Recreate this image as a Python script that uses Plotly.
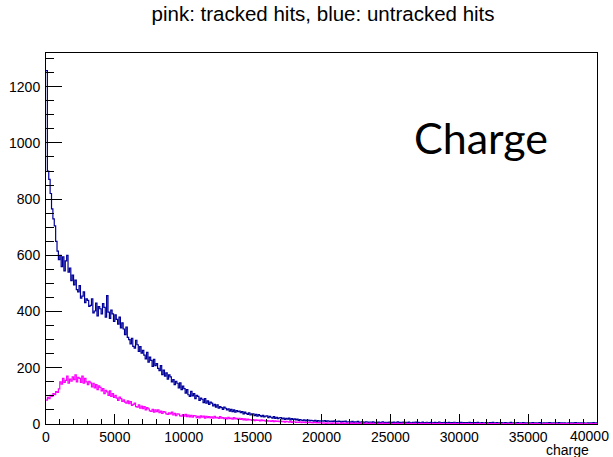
import numpy as np
import plotly.graph_objects as go

bin_width = 100
x_min, x_max = 0, 40000

# untracked hits (blue), 100-wide bins
blue_counts = [
    1257, 900, 870, 820, 765, 730, 705, 650, 615, 585,
    600, 560, 595, 545, 580, 600, 540, 555, 510, 530,
    495, 512, 478, 470, 492, 448, 455, 470, 432, 445,
    440, 418, 422, 445, 395, 402, 430, 385, 418, 410,
    392, 428, 415, 380, 457, 398, 376, 405, 392, 365,
    388, 372, 355, 380, 342, 360, 338, 318, 345, 308,
    300, 285, 305, 276, 270, 298, 282, 258, 275, 252,
    262, 245, 232, 255, 220, 238, 226, 205, 230, 208,
    215, 198, 190, 208, 176, 192, 170, 182, 160, 175,
    168, 150, 158, 140, 152, 145, 128, 146, 122, 135,
    126, 110, 122, 104, 98, 116, 100, 108, 90, 102,
    98, 84, 92, 88, 76, 90, 74, 82, 70, 78,
    74, 64, 70, 60, 68, 56, 62, 58, 52, 60,
    56, 50, 54, 46, 52, 44, 50, 42, 48, 44,
    46, 40, 44, 36, 42, 38, 34, 40, 32, 36,
    36, 30, 34, 28, 33, 30, 26, 31, 25, 28,
    29, 23, 27, 24, 21, 26, 20, 24, 19, 22,
    23, 18, 21, 16, 20, 17, 21, 15, 19, 16,
    18, 15, 17, 13, 16, 14, 12, 15, 11, 14,
    14, 11, 13, 12, 10, 13, 9, 12, 10, 11,
    11, 10, 12, 9, 11, 10, 8, 10, 9, 11,
    9, 8, 10, 9, 7, 9, 8, 10, 7, 8,
    8, 7, 9, 6, 8, 7, 9, 6, 7, 8,
    7, 6, 8, 7, 5, 7, 6, 8, 6, 5,
    6, 7, 5, 6, 8, 5, 6, 4, 6, 7,
    6, 5, 7, 4, 6, 8, 5, 6, 4, 7,
    5, 6, 4, 7, 5, 3, 6, 5, 7, 4,
    6, 4, 5, 7, 3, 5, 6, 4, 5, 6,
    4, 5, 6, 3, 5, 7, 4, 5, 3, 6,
    5, 3, 6, 4, 5, 4, 6, 3, 5, 4,
    4, 6, 3, 5, 4, 5, 3, 6, 4, 5,
    3, 5, 4, 6, 4, 3, 5, 4, 3, 5,
    4, 3, 5, 4, 6, 3, 4, 5, 3, 4,
    5, 4, 3, 5, 4, 3, 4, 6, 3, 4,
    3, 4, 5, 3, 4, 3, 5, 4, 3, 4,
    4, 3, 4, 5, 3, 4, 3, 4, 5, 3,
    3, 4, 3, 4, 3, 5, 4, 3, 4, 3,
    4, 3, 5, 3, 4, 3, 4, 3, 3, 4,
    3, 4, 3, 4, 5, 3, 4, 3, 4, 3,
    4, 3, 3, 4, 3, 4, 3, 5, 3, 4,
]

# tracked hits (pink), 100-wide bins
pink_counts = [
    85, 95, 90, 102, 98, 108, 104, 115, 112, 125,
    150, 142, 162, 148, 155, 170, 145, 160, 152, 168,
    158, 175, 150, 166, 162, 148, 170, 145, 162, 150,
    140, 152, 146, 132, 145, 128, 140, 122, 136, 130,
    118, 126, 108, 120, 114, 102, 118, 98, 108, 95,
    102, 92, 84, 96, 90, 80, 86, 78, 74, 82,
    72, 80, 66, 70, 74, 62, 60, 68, 56, 64,
    55, 62, 50, 58, 54, 47, 45, 52, 42, 50,
    44, 50, 40, 46, 38, 44, 42, 36, 34, 40,
    36, 42, 32, 38, 30, 36, 35, 29, 28, 33,
    28, 34, 26, 32, 25, 31, 24, 30, 29, 23,
    27, 22, 29, 24, 28, 21, 27, 23, 26, 22,
    25, 21, 27, 22, 24, 20, 26, 21, 23, 19,
    22, 18, 24, 19, 21, 17, 23, 18, 20, 16,
    20, 16, 19, 15, 18, 14, 17, 15, 16, 13,
    16, 12, 15, 13, 14, 11, 15, 12, 13, 10,
    12, 10, 11, 9, 12, 8, 11, 9, 10, 8,
    10, 8, 9, 7, 9, 8, 7, 9, 6, 8,
    8, 6, 7, 6, 8, 5, 7, 6, 5, 6,
    6, 5, 6, 4, 5, 6, 4, 5, 4, 5,
    3, 4, 3, 2, 4, 3, 3, 2, 4, 3,
    3, 2, 3, 3, 2, 4, 2, 3, 2, 3,
    2, 3, 2, 3, 2, 2, 3, 2, 3, 2,
    2, 2, 3, 1, 2, 3, 2, 2, 1, 2,
    2, 1, 2, 2, 3, 1, 2, 2, 1, 2,
    2, 1, 1, 2, 1, 2, 1, 1, 2, 1,
    1, 2, 1, 1, 2, 1, 1, 2, 1, 1,
    1, 1, 2, 1, 1, 1, 2, 1, 1, 1,
    2, 1, 1, 1, 1, 2, 1, 1, 1, 0,
    1, 1, 0, 1, 1, 1, 2, 1, 0, 1,
    1, 0, 1, 1, 1, 0, 1, 1, 1, 0,
    1, 1, 0, 1, 0, 1, 1, 0, 1, 1,
    0, 1, 1, 0, 1, 1, 0, 1, 0, 1,
    1, 0, 1, 1, 0, 0, 1, 0, 1, 1,
    0, 1, 0, 1, 1, 0, 1, 0, 0, 1,
    1, 0, 1, 0, 1, 1, 0, 1, 0, 0,
    0, 1, 0, 1, 0, 1, 0, 0, 1, 0,
    1, 0, 0, 1, 0, 1, 0, 1, 0, 1,
    0, 1, 0, 0, 1, 0, 1, 0, 1, 0,
    1, 0, 1, 0, 0, 1, 0, 1, 0, 1,
]

x_tick_values = [0, 5000, 10000, 15000, 20000, 25000, 30000, 35000, 40000]
title_text = "pink: tracked hits, blue: untracked hits"
x_title = "charge"
label_text = "Charge"

edges = np.arange(x_min, x_max + bin_width, bin_width)


def step_xy(counts):
    xs = list(edges[:-1]) + [edges[-1]]
    ys = list(counts) + [counts[-1]]
    return xs, ys


fig = go.Figure()
bx, by = step_xy(blue_counts)
fig.add_trace(go.Scatter(x=bx, y=by, mode="lines", line_shape="hv",
                         line=dict(color="#000099", width=1.2), hoverinfo="skip"))
px_, py_ = step_xy(pink_counts)
fig.add_trace(go.Scatter(x=px_, y=py_, mode="lines", line_shape="hv",
                         line=dict(color="#ff00ff", width=1.2), hoverinfo="skip"))

ymax = max(blue_counts) * 1.05
font_main = "Liberation Sans, Arial, sans-serif"

# last tick label is drawn right-aligned at the figure edge so it is not clipped
tick_text = [str(v) for v in x_tick_values[:-1]] + [""]

fig.update_layout(
    width=613, height=457,
    margin=dict(l=46, r=16, t=53, b=33, autoexpand=False),
    paper_bgcolor="white", plot_bgcolor="white",
    showlegend=False,
    font=dict(family=font_main, size=14, color="black"),
    title=dict(text=title_text, xref="container", yref="container",
               x=0.527, y=1 - 14 / 457, xanchor="center", yanchor="middle",
               font=dict(family=font_main, size=20.5, color="black")),
    xaxis=dict(range=[x_min, x_max], tickmode="array", tickvals=x_tick_values,
               ticktext=tick_text, automargin=False,
               ticks="inside", ticklen=10, tickcolor="black", tickwidth=1,
               minor=dict(ticks="inside", ticklen=5, dtick=1000, tick0=0, tickcolor="black"),
               showline=True, linecolor="black", linewidth=1, mirror=True,
               showgrid=False, zeroline=False,
               tickfont=dict(size=14)),
    yaxis=dict(range=[0, ymax], tickmode="linear", tick0=0, dtick=200,
               automargin=False,
               ticks="inside", ticklen=16, tickcolor="black", tickwidth=1,
               minor=dict(ticks="inside", ticklen=8, dtick=50, tickcolor="black"),
               showline=True, linecolor="black", linewidth=1, mirror=True,
               showgrid=False, zeroline=False, tickformat="d",
               ticklabelstandoff=2, tickfont=dict(size=14)),
    annotations=[
        dict(text=str(x_tick_values[-1]), xref="paper", yref="paper",
             x=(611 - 46) / 551, y=-12 / 371, xanchor="right", yanchor="middle",
             showarrow=False, font=dict(family=font_main, size=14, color="black")),
        dict(text=x_title, xref="paper", yref="paper", x=0.99, y=-26 / 371,
             xanchor="right", yanchor="middle", showarrow=False,
             font=dict(family=font_main, size=14, color="black")),
        dict(text=label_text, xref="paper", yref="paper", x=(481 - 46) / 551,
             y=(424 - 137) / 371, xanchor="center", yanchor="middle",
             showarrow=False, font=dict(family="Lato, sans-serif", size=43, color="black")),
    ],
)

fig.write_html("out.html")
